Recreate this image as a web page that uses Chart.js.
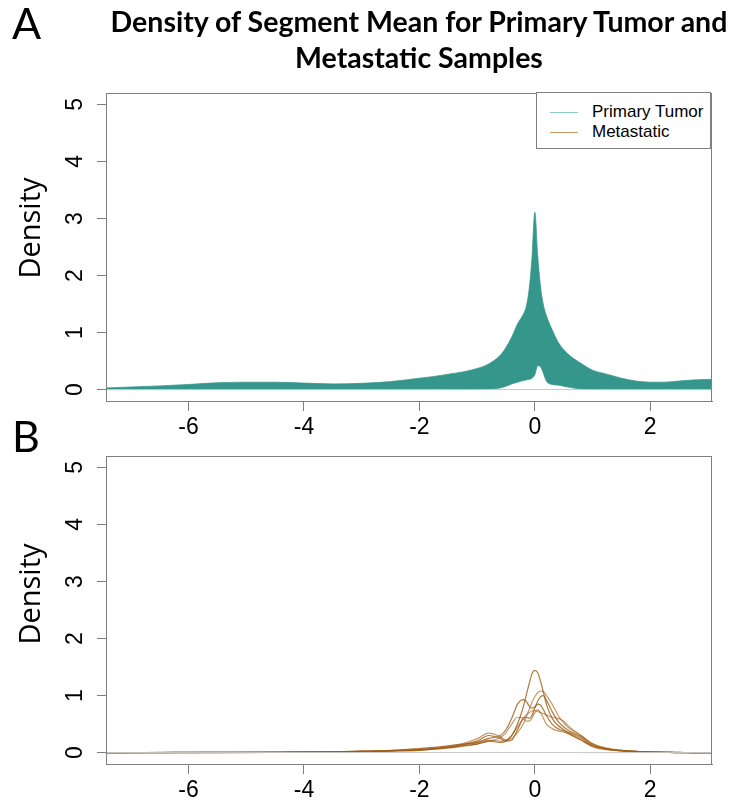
<!DOCTYPE html>
<html>
<head>
<meta charset="utf-8">
<script src="https://cdn.jsdelivr.net/npm/chart.js"></script>
<style>
  html, body { margin: 0; padding: 0; background: #fff; }
  #page { position: relative; width: 734px; height: 802px; overflow: hidden; }
  canvas { position: absolute; left: 0; }
  #chartA { top: 0; }
  #chartB { top: 363px; }
  .title { position: absolute; left: 104px; width: 630px; top: 3px; text-align: center;
    font-family: Lato, sans-serif; font-weight: 700; font-size: 28.5px; line-height: 36px; color: #000; }
  .panel { position: absolute; left: 12px; font-family: Lato, sans-serif; font-weight: 400; font-size: 43px; color: #000; line-height: 1; }
  .ylab { position: absolute; left: 28px; font-family: 'Open Sans', sans-serif; font-size: 29px; color: #000;
    transform: translate(-50%, -50%) rotate(-90deg); white-space: nowrap; }
  #legend { position: absolute; left: 536px; top: 92px; width: 175px; height: 57px; border: 1px solid #7f7f7f;
    background: #fff; font-family: 'Liberation Sans', Arial, sans-serif; font-size: 17px; box-sizing: border-box; padding-top: 9px; }
  #legend div { height: 20px; line-height: 20px; white-space: nowrap; }
  #legend span.ln { display: inline-block; width: 28px; height: 0; border-top: 1.5px solid; vertical-align: middle; margin: 0 14px 0 13px; }
</style>
</head>
<body>
<div id="page">
  <canvas id="chartA" width="734" height="445"></canvas>
  <canvas id="chartB" width="734" height="445"></canvas>
  <div class="title">Density of Segment Mean for Primary Tumor and<br>Metastatic Samples</div>
  <div class="panel" style="top:1px">A</div>
  <div class="panel" style="top:414px">B</div>
  <div class="ylab" style="top:228px">Density</div>
  <div class="ylab" style="top:594px">Density</div>
  <div id="legend"></div>
</div>
<script>
// axis settings
const xLimits = [-7.43, 3.07];
const yLimits = [-0.2, 5.2];
const xTicks = [-6, -4, -2, 0, 2];
const yTicks = [0, 1, 2, 3, 4, 5];

const seriesNames = ['Primary Tumor', 'Metastatic'];
const legendColors = ['#8ccfc6', '#c99a63'];

// common grid of segment mean values
const xs = [-7.43, -7, -6.5, -6, -5.5, -5, -4.5, -4, -3.5, -3, -2.5, -2, -1.75, -1.5, -1.25, -1,
  -0.8, -0.6, -0.5, -0.4, -0.3, -0.2, -0.15, -0.1, -0.05, 0, 0.05, 0.1, 0.15, 0.2, 0.3, 0.4, 0.5,
  0.6, 0.8, 1, 1.25, 1.5, 1.75, 2, 2.25, 2.5, 2.75, 3.07];

// primary tumor: upper and lower edge of the band of curves
const primaryUpper = [0.03, 0.045, 0.065, 0.09, 0.12, 0.13, 0.13, 0.115, 0.1, 0.11, 0.14, 0.2, 0.23, 0.27, 0.31, 0.37,
  0.45, 0.6, 0.74, 0.92, 1.15, 1.32, 1.45, 1.75, 2.3, 3.11, 2.35, 1.8, 1.48, 1.3, 1.05, 0.84, 0.7,
  0.6, 0.46, 0.34, 0.27, 0.2, 0.15, 0.13, 0.13, 0.15, 0.17, 0.18];
const primaryLower = [0, 0, 0, 0, 0, 0, 0, 0, 0, 0, 0, 0, 0, 0, 0, 0.005,
  0.01, 0.03, 0.06, 0.1, 0.13, 0.16, 0.17, 0.18, 0.2, 0.26, 0.42, 0.4, 0.28, 0.15, 0.09, 0.08, 0.06,
  0.04, 0.01, 0.003, 0, 0, 0, 0, 0, 0, 0, 0];

// metastatic samples
const met1 = [0, 0, 0, 0.005, 0.005, 0.005, 0.005, 0.008, 0.01, 0.02, 0.03, 0.05, 0.07, 0.09, 0.12, 0.15,
  0.2, 0.18, 0.2, 0.3, 0.5, 0.8, 1.0, 1.2, 1.38, 1.44, 1.4, 1.25, 1.05, 0.85, 0.6, 0.48, 0.4,
  0.33, 0.22, 0.12, 0.06, 0.04, 0.02, 0.01, 0.005, 0.003, 0, 0];
const met2 = [0, 0, 0, 0, 0.005, 0.005, 0.008, 0.01, 0.015, 0.02, 0.035, 0.06, 0.08, 0.11, 0.16, 0.24,
  0.34, 0.28, 0.22, 0.25, 0.35, 0.5, 0.62, 0.75, 0.88, 0.98, 1.05, 1.08, 1.07, 1.0, 0.85, 0.66, 0.52,
  0.42, 0.3, 0.14, 0.06, 0.03, 0.02, 0.01, 0.005, 0, 0, 0];
const met3 = [0, 0, 0.003, 0.003, 0.005, 0.005, 0.005, 0.01, 0.015, 0.025, 0.04, 0.07, 0.09, 0.12, 0.15, 0.18,
  0.25, 0.3, 0.4, 0.6, 0.85, 0.93, 0.9, 0.82, 0.78, 0.8, 0.85, 0.83, 0.75, 0.65, 0.5, 0.42, 0.38,
  0.35, 0.25, 0.12, 0.06, 0.03, 0.015, 0.01, 0.005, 0, 0, 0];
const met4 = [0, 0, 0, 0, 0, 0.003, 0.005, 0.008, 0.012, 0.02, 0.03, 0.05, 0.07, 0.1, 0.13, 0.17,
  0.22, 0.2, 0.22, 0.3, 0.45, 0.6, 0.66, 0.7, 0.73, 0.74, 0.72, 0.7, 0.68, 0.66, 0.62, 0.6, 0.55,
  0.45, 0.3, 0.16, 0.08, 0.04, 0.02, 0.01, 0.005, 0.003, 0, 0];
const met5 = [0, 0, 0, 0, 0, 0, 0.003, 0.005, 0.01, 0.015, 0.025, 0.04, 0.06, 0.09, 0.14, 0.2,
  0.3, 0.25, 0.2, 0.22, 0.4, 0.6, 0.62, 0.6, 0.65, 0.78, 0.9, 0.98, 1.0, 0.92, 0.72, 0.55, 0.45,
  0.38, 0.28, 0.15, 0.07, 0.04, 0.02, 0.01, 0.005, 0, 0, 0];
const met6 = [0, 0.002, 0.002, 0.003, 0.003, 0.004, 0.005, 0.008, 0.012, 0.02, 0.03, 0.045, 0.06, 0.08, 0.11, 0.15,
  0.2, 0.26, 0.35, 0.5, 0.62, 0.6, 0.55, 0.55, 0.6, 0.7, 0.75, 0.7, 0.6, 0.5, 0.42, 0.38, 0.36,
  0.32, 0.22, 0.1, 0.05, 0.03, 0.015, 0.008, 0.004, 0.002, 0.001, 0];
const metastatic = [met1, met2, met3, met4, met5, met6];

const pts = ys => xs.map((x, i) => ({ x: x, y: ys[i] }));
const zeroLine = () => ({
  label: 'zero', data: [{ x: xLimits[0], y: 0 }, { x: xLimits[1], y: 0 }],
  borderColor: '#c8c8c8', borderWidth: 1, tension: 0, fill: false
});

// R-style box round the plot region
const boxPlugin = {
  id: 'box',
  afterDraw(chart) {
    const a = chart.chartArea, c = chart.ctx;
    c.save();
    c.strokeStyle = '#7f7f7f';
    c.lineWidth = 1;
    c.strokeRect(Math.round(a.left) + 0.5, Math.round(a.top) + 0.5, Math.round(a.width) - 1, Math.round(a.height));
    c.restore();
  }
};

function panelOptions(padTop) {
  const tickFont = { family: "'Liberation Sans', Arial, sans-serif", size: 23 };
  return {
    responsive: false,
    animation: false,
    layout: { padding: { top: padTop, right: 22, bottom: 0, left: 0 } },
    plugins: { legend: { display: false }, tooltip: { enabled: false } },
    elements: { point: { radius: 0 }, line: { borderWidth: 1, cubicInterpolationMode: 'monotone' } },
    scales: {
      x: {
        type: 'linear', min: xLimits[0], max: xLimits[1],
        afterBuildTicks: s => { s.ticks = xTicks.map(v => ({ value: v })); },
        afterFit: s => { s.height = 44; },
        grid: { drawOnChartArea: false, tickLength: 10, color: '#7f7f7f' },
        border: { color: '#7f7f7f' },
        ticks: { font: tickFont, color: '#000', padding: 3, maxRotation: 0, autoSkip: false }
      },
      y: {
        type: 'linear', min: yLimits[0], max: yLimits[1],
        afterBuildTicks: s => { s.ticks = yTicks.map(v => ({ value: v })); },
        afterFit: s => { s.width = 106; },
        grid: { drawOnChartArea: false, tickLength: 9, color: '#7f7f7f' },
        border: { color: '#7f7f7f' },
        ticks: { font: tickFont, color: '#000', padding: 15, minRotation: 90, maxRotation: 90, crossAlign: 'center', autoSkip: false }
      }
    }
  };
}

new Chart(document.getElementById('chartA'), {
  type: 'line',
  data: {
    datasets: [
      zeroLine(),
      { label: 'lower', data: pts(primaryLower), borderColor: 'rgba(53,150,140,0.8)', fill: false },
      { label: seriesNames[0], data: pts(primaryUpper), borderColor: 'rgba(53,150,140,0.75)',
        backgroundColor: '#35968c', fill: '-1' }
    ]
  },
  options: panelOptions(93),
  plugins: [boxPlugin]
});

new Chart(document.getElementById('chartB'), {
  type: 'line',
  data: {
    datasets: [zeroLine()].concat(metastatic.map((m, i) => ({
      label: seriesNames[1] + ' ' + (i + 1), data: pts(m),
      borderColor: i % 2 ? 'rgba(165,100,30,0.65)' : 'rgba(155,90,15,0.8)', fill: false, borderWidth: 1.2
    })))
  },
  options: panelOptions(93),
  plugins: [boxPlugin]
});

// legend
const legend = document.getElementById('legend');
seriesNames.forEach((name, i) => {
  const row = document.createElement('div');
  row.innerHTML = `<span class="ln" style="border-color:${legendColors[i]}"></span>${name}`;
  legend.appendChild(row);
});
</script>
</body>
</html>
